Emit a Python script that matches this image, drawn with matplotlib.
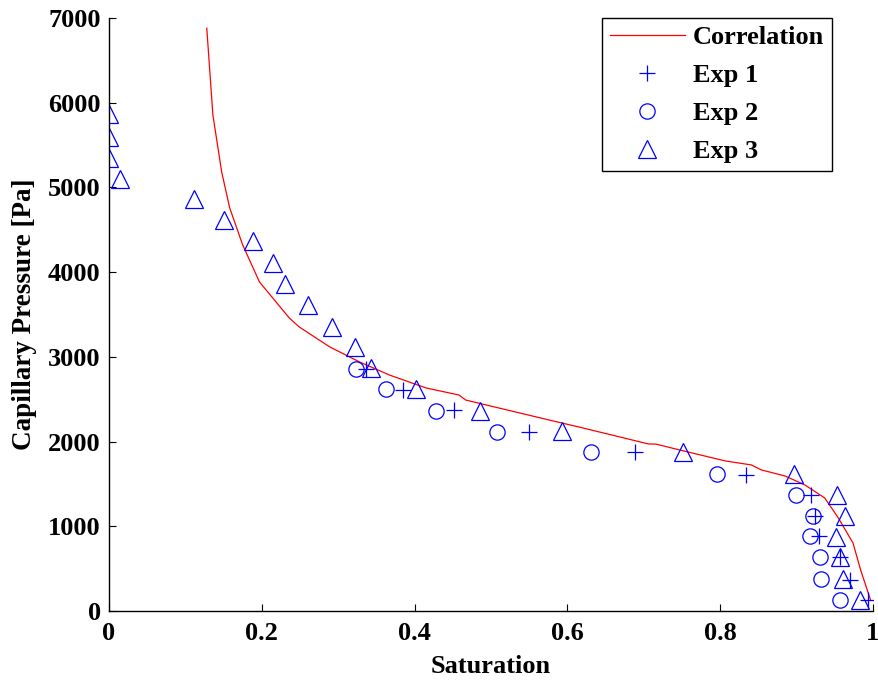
import matplotlib
matplotlib.use("Agg")
import matplotlib.pyplot as plt

# Correlation curve
sat_corr = [0.128, 0.136, 0.1475, 0.158, 0.175, 0.197, 0.236, 0.249, 0.289,
            0.328, 0.367, 0.415, 0.458, 0.467, 0.510, 0.576, 0.615, 0.658, 0.706,
            0.716, 0.758, 0.807, 0.841, 0.854, 0.885, 0.911, 0.937, 0.954, 0.974,
            0.984, 0.997]
pc_corr = [6880, 5856, 5183, 4758, 4321, 3884, 3459, 3353, 3117,
           2940, 2786, 2633, 2550, 2490, 2397, 2255, 2172, 2078, 1972,
           1970, 1877, 1771, 1724, 1665, 1594, 1488, 1334, 1110, 803,
           484, 130]

# Exp 1 (+)
sat_exp1 = [0.337, 0.385, 0.452, 0.550, 0.688, 0.834, 0.919, 0.924, 0.929, 0.957, 0.970, 0.993]
pc_exp1 = [2857, 2610, 2370, 2115, 1877, 1606, 1370, 1120, 885, 640, 366, 130]

# Exp 2 (o)
sat_exp2 = [0.324, 0.363, 0.428, 0.508, 0.631, 0.796, 0.899, 0.921, 0.918, 0.931, 0.932, 0.957]
pc_exp2 = [2857, 2620, 2360, 2115, 1877, 1617, 1370, 1120, 885, 640, 378, 130]

# Exp 3 (triangles)
sat_exp3 = [0.0, 0.0, 0.0, 0.014, 0.111, 0.151, 0.189, 0.215, 0.230, 0.261,
            0.292, 0.322, 0.343, 0.402, 0.486, 0.593, 0.751, 0.897, 0.953, 0.963,
            0.952, 0.957, 0.961, 0.983]
pc_exp3 = [5870, 5600, 5350, 5100, 4860, 4616, 4370, 4110, 3860, 3610,
           3350, 3120, 2870, 2620, 2360, 2125, 1877, 1617, 1370, 1120,
           874, 637, 378, 130]

plt.rcParams['font.family'] = ['Liberation Serif', 'DejaVu Serif']
plt.rcParams['font.weight'] = 'bold'

fig = plt.figure(figsize=(8.79, 6.81), dpi=100)
ax = fig.add_axes([0.124, 0.1028, 0.869, 0.8708])

ax.plot(sat_corr, pc_corr, color='red', lw=0.9, label='Correlation')
ax.plot(sat_exp1, pc_exp1, ls='none', marker='+', ms=11, mew=0.9, color='blue', label='Exp 1')
ax.plot(sat_exp2, pc_exp2, ls='none', marker='o', ms=11, mew=0.9, mfc='none', color='blue', label='Exp 2')
ax.plot(sat_exp3, pc_exp3, ls='none', marker='^', ms=13, mew=0.9, mfc='none', color='blue', label='Exp 3')

ax.set_xlim(0, 1)
ax.set_ylim(0, 7000)
ax.set_xticks([0, 0.2, 0.4, 0.6, 0.8, 1])
ax.set_xticklabels(['0', '0.2', '0.4', '0.6', '0.8', '1'])
ax.set_yticks(range(0, 7001, 1000))
ax.tick_params(direction='in', length=5, width=0.8, labelsize=19, pad=6)
ax.tick_params(axis='x', pad=8)
for lab in ax.get_xticklabels() + ax.get_yticklabels():
    lab.set_fontweight('bold')
ax.spines['top'].set_visible(False)
ax.spines['right'].set_visible(False)
ax.spines['left'].set_linewidth(1.0)
ax.spines['bottom'].set_linewidth(1.0)

ax.set_xlabel('Saturation', fontsize=19, fontweight='bold', labelpad=7)
ax.set_ylabel('Capillary Pressure [Pa]', fontsize=19.5, fontweight='bold', labelpad=8)

leg = ax.legend(loc='upper right', bbox_to_anchor=(0.9465, 1.0), borderaxespad=0,
                fontsize=19, fancybox=False, edgecolor='black', framealpha=1,
                handlelength=2.85, borderpad=0.3, labelspacing=0.55, handletextpad=0.3)
leg.get_frame().set_linewidth(1.0)
for t in leg.get_texts():
    t.set_fontweight('bold')

fig.savefig('out.png', dpi=100)
